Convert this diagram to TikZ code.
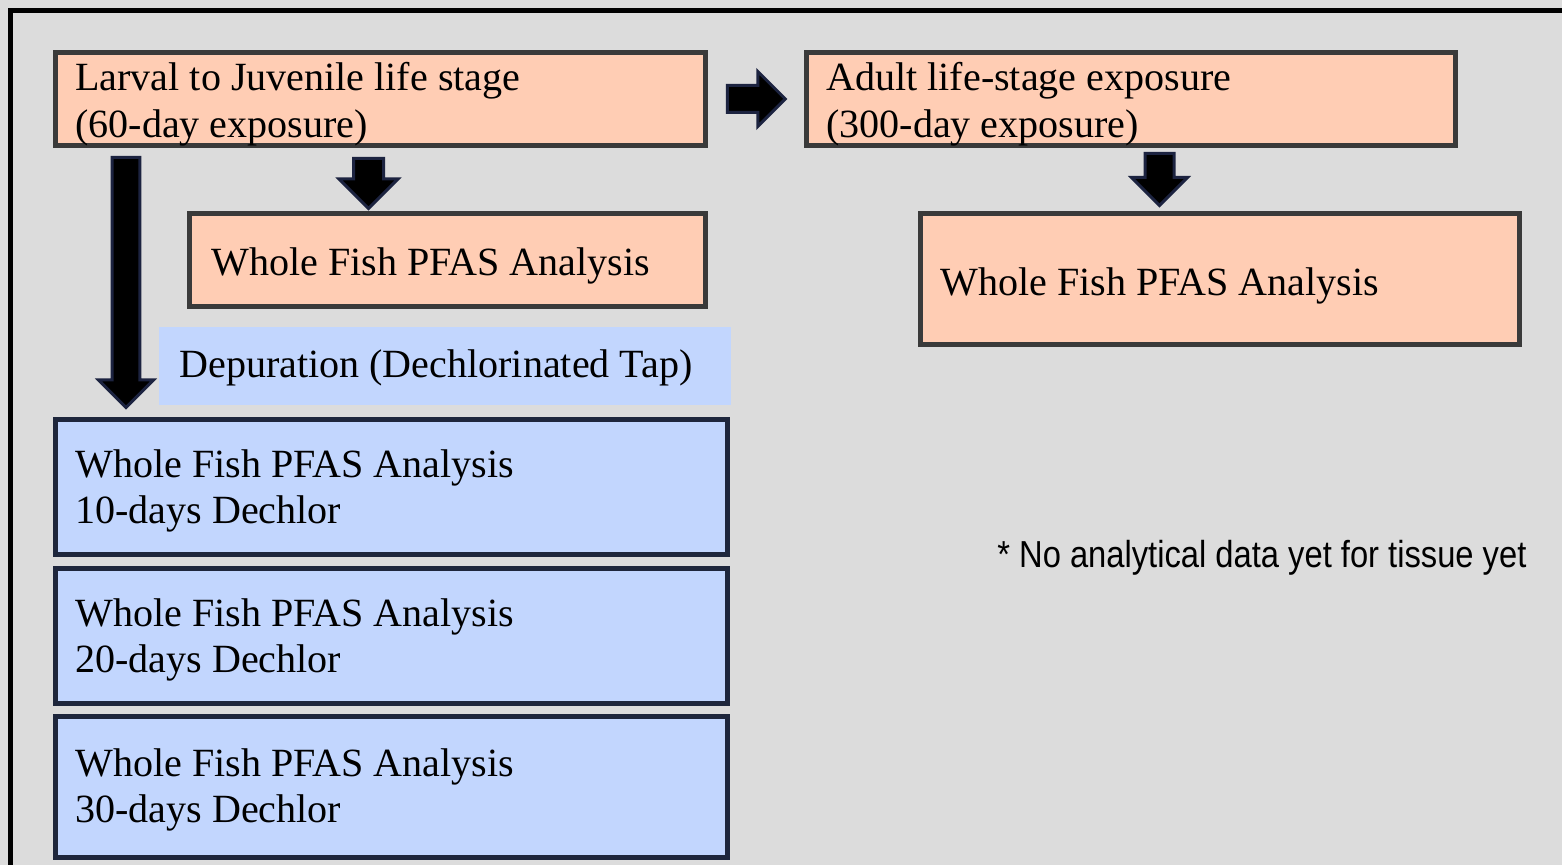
\documentclass[tikz,border=0pt]{standalone}
\usepackage{fontspec}
\setmainfont{Liberation Serif}
\newfontfamily\notefont[FakeStretch=0.87]{Liberation Sans}
\usetikzlibrary{shapes.arrows,calc,positioning}

\definecolor{bggray}{RGB}{220,220,220}
\definecolor{peach}{RGB}{255,205,180}
\definecolor{paleblue}{RGB}{194,214,254}
\definecolor{boxgray}{RGB}{58,58,58}
\definecolor{boxnavy}{RGB}{30,38,60}
\definecolor{arrnavy}{RGB}{28,35,64}

\tikzset{
  box/.style={rectangle,anchor=north west,inner sep=0pt,outer sep=0pt,line width=0.1cm},
  peachbox/.style={box,draw=boxgray,fill=peach},
  bluebox/.style={box,draw=boxnavy,fill=paleblue},
  txt/.style={anchor=base west,inner sep=0pt,font=\fontsize{22.8}{26.7}\selectfont},
  blockarrow/.style={single arrow,fill=black,draw=arrnavy,line width=0.06cm,
    single arrow tip angle=90,inner xsep=0pt,outer sep=0pt,anchor=tail}
}

\begin{document}
\begin{tikzpicture}[x=0.02cm,y=-0.02cm]

\fill[bggray] (0,0) rectangle (1562,865);
\clip (0,0) rectangle (1562,865);

% frame, cut by the page edge
\draw[line width=0.1cm] (10.5,880) -- (10.5,10.5) -- (1580,10.5);

% exposure boxes
\node[peachbox,minimum width=13cm,minimum height=1.86cm] (boxA) at (55.5,52.5) {};
\node[peachbox,minimum width=12.98cm,minimum height=1.86cm] (boxB) at (806.5,52.5) {};
\node[peachbox,minimum width=10.32cm,minimum height=1.86cm] (boxC) at (189.5,213.5) {};
\node[peachbox,minimum width=11.98cm,minimum height=2.62cm] (boxD) at (920.5,213.5) {};

% depuration
\node[box,fill=paleblue,minimum width=11.44cm,minimum height=1.56cm] (dep) at (159,327) {};
\node[bluebox,minimum width=13.44cm,minimum height=2.7cm] (day10) at (55.5,419.5) {};
\node[bluebox,minimum width=13.44cm,minimum height=2.7cm] (day20) at (55.5,568.5) {};
\node[bluebox,minimum width=13.44cm,minimum height=2.82cm] (day30) at (55.5,716.5) {};

% block arrows
\node[blockarrow,minimum height=1.16cm,inner ysep=0.24cm,single arrow head extend=0.28cm]
  (arrR) at ($(boxA.east)+(22,0)$) {};
\node[blockarrow,rotate=-90,minimum height=1cm,inner ysep=0.27cm,single arrow head extend=0.29cm]
  (arrC) at ($(boxA.south west)+(313,13)$) {};
\node[blockarrow,rotate=-90,minimum height=1.04cm,inner ysep=0.26cm,single arrow head extend=0.27cm]
  (arrD) at ($(boxB.south west)+(353,8)$) {};
\node[blockarrow,rotate=-90,minimum height=5cm,inner ysep=0.25cm,single arrow head extend=0.27cm]
  (arrDep) at ($(boxA.south west)+(70.5,12)$) {};

% texts
\node[txt] (tA) at (75,91) {\begin{tabular}[t]{@{}l@{}}Larval to Juvenile life stage\\(60-day exposure)\end{tabular}};
\node[txt] (tB) at (826,91) {\begin{tabular}[t]{@{}l@{}}Adult life-stage exposure\\(300-day exposure)\end{tabular}};
\node[txt] (tC) at (211,275) {Whole Fish PFAS Analysis};
\node[txt] (tD) at (940,295) {Whole Fish PFAS Analysis};
\node[txt] (tDep) at (179,377) {Depuration (Dechlorinated Tap)};
\node[txt] (t10) at (75,477) {\begin{tabular}[t]{@{}l@{}}Whole Fish PFAS Analysis\\10-days Dechlor\end{tabular}};
\node[txt] (t20) at (75,626) {\begin{tabular}[t]{@{}l@{}}Whole Fish PFAS Analysis\\20-days Dechlor\end{tabular}};
\node[txt] (t30) at (75,776) {\begin{tabular}[t]{@{}l@{}}Whole Fish PFAS Analysis\\30-days Dechlor\end{tabular}};

\node[anchor=base west,inner sep=0pt,font=\notefont\fontsize{21.4}{25}\selectfont]
  (note) at (997,567) {* No analytical data yet for tissue yet};

\end{tikzpicture}
\end{document}
